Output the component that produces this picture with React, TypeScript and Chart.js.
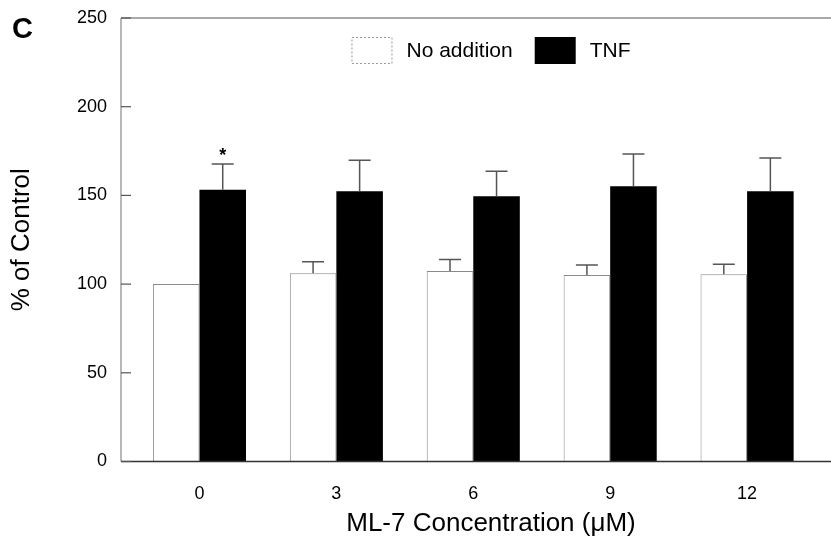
import React, { useEffect, useRef } from 'react';
import { Chart, registerables } from 'chart.js';

Chart.register(...registerables);

const categories = ['0', '3', '6', '9', '12'];
const noAddition = [100, 106.1, 107.4, 105.1, 105.5];
const noAdditionErr = [0, 6.5, 6.4, 5.7, 5.7];
const tnf = [153.2, 152.3, 149.5, 155.1, 152.3];
const tnfErr = [14.5, 17.5, 14.1, 18.2, 18.8];
const significance = ['*', '', '', '', ''];
const yTicks = [0, 50, 100, 150, 200, 250];
const seriesLabels = ['No addition', 'TNF'];

const FONT = '"Liberation Sans", Arial, Helvetica, sans-serif';

export default function App() {
  const ref = useRef<HTMLCanvasElement>(null);

  useEffect(() => {
    document.body.style.margin = '0';
    const canvas = ref.current!;
    const errs = [noAdditionErr, tnfErr];
    const vals = [noAddition, tnf];

    const decor = {
      id: 'decor',
      afterDatasetsDraw(chart: any) {
        const ctx = chart.ctx;
        const ys = chart.scales.y;
        const { left, right, top, bottom } = chart.chartArea;
        ctx.save();
        // error bars
        for (let d = 0; d < 2; d++) {
          const meta = chart.getDatasetMeta(d);
          meta.data.forEach((bar: any, j: number) => {
            const e = errs[d][j];
            if (!e) return;
            const y0 = ys.getPixelForValue(vals[d][j]);
            const y1 = ys.getPixelForValue(vals[d][j] + e);
            ctx.strokeStyle = '#555';
            ctx.lineWidth = 1.5;
            ctx.beginPath();
            ctx.moveTo(bar.x, y0);
            ctx.lineTo(bar.x, y1);
            ctx.moveTo(bar.x - 11, y1);
            ctx.lineTo(bar.x + 11, y1);
            ctx.stroke();
            if (d === 1 && significance[j]) {
              ctx.fillStyle = '#000';
              ctx.font = `bold 18px ${FONT}`;
              ctx.textAlign = 'center';
              ctx.textBaseline = 'alphabetic';
              ctx.fillText(significance[j], bar.x, y1 - 3);
            }
          });
        }
        // axes / frame
        ctx.lineWidth = 1.2;
        ctx.strokeStyle = '#555';
        ctx.beginPath();
        ctx.moveTo(left, top);
        ctx.lineTo(right, top);
        ctx.stroke();
        ctx.strokeStyle = '#888';
        ctx.beginPath();
        ctx.moveTo(left, top);
        ctx.lineTo(left, bottom);
        ctx.stroke();
        ctx.strokeStyle = '#333';
        ctx.lineWidth = 1.5;
        ctx.beginPath();
        ctx.moveTo(left, bottom);
        ctx.lineTo(right, bottom);
        ctx.stroke();
        ctx.strokeStyle = '#555';
        ctx.lineWidth = 1.2;
        yTicks.forEach((t) => {
          const p = ys.getPixelForValue(t);
          ctx.beginPath();
          ctx.moveTo(left, p);
          ctx.lineTo(left + 10, p);
          ctx.stroke();
        });
        // legend
        ctx.font = `21px ${FONT}`;
        const boxW = 41, boxH = 27, gapBox = 14, gapItem = 22;
        const w0 = ctx.measureText(seriesLabels[0]).width;
        const w1 = ctx.measureText(seriesLabels[1]).width;
        const total = boxW + gapBox + w0 + gapItem + boxW + gapBox + w1;
        let x = (left + right) / 2 - total / 2;
        const by = top + 19;
        ctx.fillStyle = '#fff';
        ctx.fillRect(x, by, boxW, boxH);
        ctx.strokeStyle = '#999';
        ctx.lineWidth = 1;
        ctx.setLineDash([2, 2]);
        ctx.strokeRect(x + 0.5, by + 0.5, boxW - 1, boxH - 1);
        ctx.setLineDash([]);
        ctx.fillStyle = '#000';
        ctx.textAlign = 'left';
        ctx.textBaseline = 'middle';
        ctx.fillText(seriesLabels[0], x + boxW + gapBox, by + boxH / 2 + 1);
        x += boxW + gapBox + w0 + gapItem;
        ctx.fillStyle = '#000';
        ctx.fillRect(x, by, boxW, boxH);
        ctx.fillText(seriesLabels[1], x + boxW + gapBox, by + boxH / 2 + 1);
        // panel letter
        ctx.font = `bold 29px ${FONT}`;
        ctx.textBaseline = 'alphabetic';
        ctx.fillText('C', 12, 38);
        ctx.restore();
      },
    };

    const chart = new Chart(canvas, {
      type: 'bar',
      data: {
        datasets: [
          {
            label: seriesLabels[0],
            data: noAddition.map((y, i) => ({ x: i, y })),
            backgroundColor: '#fff',
            borderColor: '#8a8a8a',
            borderWidth: 1,
            categoryPercentage: 0.68,
            barPercentage: 1,
          },
          {
            label: seriesLabels[1],
            data: tnf.map((y, i) => ({ x: i, y })),
            backgroundColor: '#000',
            borderWidth: 0,
            categoryPercentage: 0.68,
            barPercentage: 1,
          },
        ],
      } as any,
      options: {
        animation: false,
        responsive: false,
        layout: { padding: { top: 18, right: 0, left: 0, bottom: 0 } },
        plugins: { legend: { display: false }, tooltip: { enabled: false } },
        scales: {
          x: {
            type: 'linear',
            min: -0.573,
            max: 4.832,
            offset: false,
            grid: { display: false, drawTicks: false },
            border: { display: false },
            afterBuildTicks: (scale: any) => {
              scale.ticks = categories.map((_, i) => ({ value: i }));
            },
            afterFit: (scale: any) => {
              scale.height = 82.5;
              scale.paddingLeft = 0;
              scale.paddingRight = 0;
            },
            ticks: {
              autoSkip: false,
              maxRotation: 0,
              padding: 22,
              color: '#000',
              font: { family: FONT, size: 18 },
              callback: (v: any) => categories[v] ?? '',
            },
            title: {
              display: true,
              text: 'ML-7 Concentration (\u03bcM)',
              color: '#000',
              font: { family: FONT, size: 26 },
              padding: { top: 0, bottom: 5 },
            },
          },
          y: {
            min: 0,
            max: 250,
            grid: { display: false, drawTicks: false },
            border: { display: false },
            afterFit: (scale: any) => {
              scale.width = 121;
              scale.paddingTop = 0;
              scale.paddingBottom = 0;
            },
            ticks: {
              stepSize: 50,
              padding: 14,
              color: '#000',
              font: { family: FONT, size: 18 },
            },
            title: {
              display: true,
              text: '% of Control',
              color: '#000',
              font: { family: FONT, size: 26 },
              padding: { top: 6, bottom: 0 },
            },
          },
        },
      } as any,
      plugins: [decor],
    });
    return () => chart.destroy();
  }, []);

  return (
    <div style={{ width: 831, height: 544, overflow: 'hidden', position: 'relative' }}>
      <canvas ref={ref} width={861} height={544} style={{ display: 'block' }} />
    </div>
  );
}
